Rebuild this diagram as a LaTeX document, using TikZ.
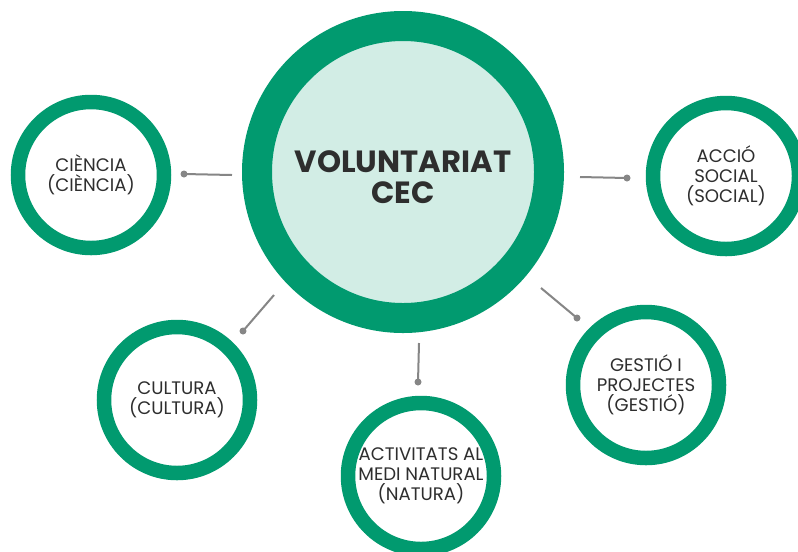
\documentclass[tikz,border=0pt]{standalone}
\usepackage{fontspec}
\setmainfont{Poppins}
\definecolor{ringgreen}{HTML}{019A6F}
\definecolor{paleg}{HTML}{D2EDE5}
\definecolor{txt}{HTML}{2E2E2E}
\definecolor{conn}{HTML}{868686}
\def\u{0.75pt}
\tikzset{
  hub/.style={circle, draw=ringgreen, fill=paleg, line width=30*\u, minimum size=292*\u, inner sep=0pt},
  hubtext/.style={text=txt, align=center, inner sep=0pt, font=\bfseries\fontsize{23}{23.5}\selectfont},
  topic/.style={circle, draw=ringgreen, fill=white, line width=14.5*\u, minimum size=146*\u, inner sep=0pt,
    text=txt, align=center, font=\fontsize{13.6}{15.2}\selectfont},
  link/.style={draw=conn, line width=2*\u},
  tipdot/.style={fill=conn},
}
\begin{document}
\begin{tikzpicture}[x=\u, y=-\u]
\clip (0,0) rectangle (798,551);
\fill[white] (0,0) rectangle (798,551);
\node[hub] (hub) at (403,172) {};
\node[hubtext] (hubtitle) at ([yshift=-3.8pt]hub.center) {VOLUNTARIAT\\CEC};
\node[topic] (cien) at (91,175) {CIÈNCIA\\(CIÈNCIA)};
\node[topic] (soc) at (726,176) {ACCIÓ\\SOCIAL\\(SOCIAL)};
\node[topic] (gest) at (646,385) {GESTIÓ I\\PROJECTES\\(GESTIÓ)};
\node[topic] (cult) at (177,400) {CULTURA\\(CULTURA)};
\node[topic] (nat) at (421,476) {ACTIVITATS AL\\MEDI NATURAL\\(NATURA)};
% connector ends
\coordinate (h1) at (232,175); \coordinate (d1) at (184,174);
\coordinate (h2) at (580,177); \coordinate (d2) at (627,178);
\coordinate (h3) at (541,288); \coordinate (d3) at (577,318);
\coordinate (h4) at (274,295); \coordinate (d4) at (243,331);
\coordinate (h5) at (419,343); \coordinate (d5) at (418,382);
\foreach \i in {1,...,5}{
  \draw[link] (h\i) -- (d\i);
  \fill[tipdot] (d\i) circle (3.5*\u);
}
\end{tikzpicture}
\end{document}
